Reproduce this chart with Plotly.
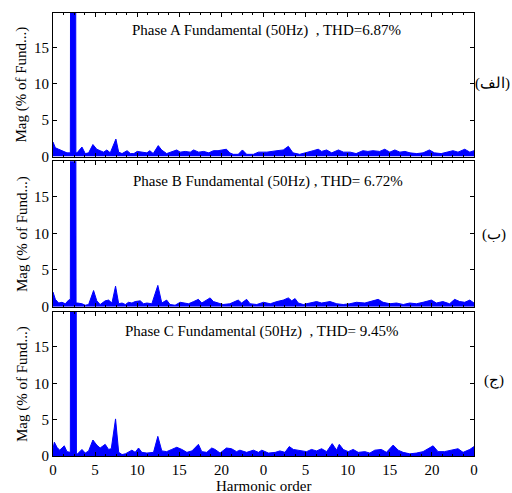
import plotly.graph_objects as go

# Harmonic spectra (magnitude in % of fundamental) for the three phases
order_a = [0, 0.28, 0.67, 1.26, 1.66, 2.06, 2.16, 2.62, 2.72, 2.85, 3.44, 3.83, 4.23, 4.74, 5.2, 5.6, 6.0, 6.4,
           6.8, 7.47, 7.8, 8.2, 8.8, 9.2, 9.6, 10.0, 10.4, 10.75, 11.15, 11.5, 11.9, 12.5, 12.9, 13.5, 14.1, 14.7,
           15.1, 15.7, 16.3, 16.7, 17.3, 17.9, 18.5, 19.05, 19.6, 20.2, 20.6, 21.0, 21.4, 22.0, 22.5, 23.0, 23.8,
           24.4, 25.4, 26.6, 27.35, 27.95, 28.5, 29.3, 30.1, 30.9, 31.5, 31.9, 32.5, 33.1, 33.9, 34.5, 35.3, 36.0,
           36.8, 37.4, 38.0, 38.8, 39.4, 40.0, 40.6, 41.2, 41.8, 42.4, 43.2, 43.95, 44.7, 45.3, 46.1, 46.9, 47.5,
           48.1, 48.9, 49.5, 50]
mag_a = [2.0, 1.2, 1.0, 0.7, 0.5, 0.5, 100, 100, 0.5, 0.5, 1.3, 0.4, 0.5, 1.65, 1.0, 0.8, 0.6, 0.9,
         0.5, 2.4, 0.6, 0.4, 0.8, 0.4, 0.4, 0.7, 0.6, 0.5, 0.5, 0.8, 0.4, 1.5, 0.9, 0.4, 0.6, 0.9,
         0.6, 0.7, 0.6, 0.9, 0.6, 0.7, 0.5, 0.8, 0.8, 0.9, 1.0, 0.5, 0.3, 0.3, 0.9, 0.3, 0.3,
         0.6, 0.6, 0.8, 0.9, 1.4, 0.5, 0.3, 0.6, 0.8, 1.0, 0.7, 0.9, 0.5, 0.9, 0.6, 0.6, 0.4,
         0.8, 0.7, 0.8, 0.7, 1.0, 0.6, 0.9, 0.6, 0.7, 0.5, 0.4, 0.5, 0.9, 0.5, 0.4, 0.6, 0.8,
         0.6, 1.0, 0.6, 0.8]

order_b = [0, 0.28, 0.67, 1.07, 1.46, 1.86, 2.06, 2.17, 2.63, 2.74, 2.92, 3.44, 3.83, 4.23, 4.82, 5.2, 5.6,
           6.2, 6.6, 7.0, 7.43, 7.8, 8.2, 8.6, 8.97, 9.37, 9.76, 10.36, 10.75, 11.15, 11.74, 12.45, 12.92,
           13.5, 13.9, 14.5, 15.1, 15.7, 16.1, 16.7, 17.27, 17.67, 18.06, 18.66, 19.05, 19.64, 20.2, 21.0,
           21.4, 22.0, 22.4, 23.0, 23.4, 24.2, 25.0, 25.8, 26.6, 27.35, 27.95, 28.35, 28.75, 29.13, 29.72,
           30.5, 31.3, 31.9, 32.9, 33.7, 34.47, 35.25, 36.05, 37.04, 37.83, 38.62, 39.2, 40.0, 40.8, 41.6,
           42.37, 43.16, 43.95, 44.94, 45.53, 46.3, 47.1, 47.7, 48.3, 48.9, 49.5, 50]
mag_b = [2.0, 1.0, 0.5, 0.6, 0.4, 0.9, 1.0, 100, 100, 0.5, 0.5, 0.4, 0.2, 0.3, 2.2, 0.8, 0.3,
         0.8, 0.9, 0.5, 2.8, 0.4, 0.5, 0.3, 0.6, 0.5, 0.7, 0.8, 0.4, 0.5, 0.4, 2.9, 0.5,
         0.9, 0.3, 0.2, 0.6, 0.5, 0.4, 0.7, 1.0, 0.5, 0.8, 1.2, 0.7, 0.5, 0.3, 0.4,
         0.6, 0.9, 0.5, 1.0, 0.4, 0.3, 0.6, 0.4, 0.7, 0.9, 1.2, 0.8, 1.1, 0.5, 0.3,
         0.5, 0.7, 0.5, 0.7, 0.4, 0.3, 0.4, 0.6, 0.5, 0.7, 1.0, 0.6, 0.4, 0.5, 0.3,
         0.5, 0.4, 0.6, 0.9, 0.5, 0.7, 0.4, 1.0, 0.7, 0.6, 0.9, 0.5]

order_c = [0, 0.16, 0.47, 0.79, 1.07, 1.34, 1.66, 2.06, 2.16, 2.68, 2.78, 2.92, 3.44, 3.83, 4.23, 4.74, 5.2,
           5.6, 6.2, 6.6, 6.92, 7.43, 7.8, 8.2, 8.6, 8.97, 9.37, 9.76, 10.16, 10.55, 11.15, 11.94, 12.45,
           12.92, 13.5, 14.1, 14.7, 15.3, 15.9, 16.5, 17.27, 17.67, 18.26, 18.85, 19.25, 19.84, 20.6, 21.2,
           21.8, 22.2, 23.0, 23.8, 24.4, 24.8, 25.6, 26.4, 26.95, 27.55, 28.06, 28.54, 29.33, 30.12, 30.7,
           31.3, 31.9, 32.5, 33.16, 33.68, 34.0, 34.47, 35.06, 35.65, 36.25, 37.04, 37.63, 38.22, 39.0,
           39.6, 40.4, 41.0, 41.58, 42.37, 43.16, 43.95, 45.14, 45.73, 46.5, 47.3, 48.1, 48.7, 49.5, 50]
mag_c = [1.0, 1.9, 1.2, 0.8, 1.1, 1.4, 0.6, 0.5, 100, 100, 0.3, 0.3, 0.9, 0.4, 0.7, 2.2, 1.5,
         1.1, 1.6, 0.9, 1.0, 5.1, 0.5, 0.2, 0.3, 0.6, 0.8, 0.5, 1.1, 0.5, 0.4, 0.5, 2.7,
         0.7, 0.6, 0.9, 1.2, 0.9, 0.5, 0.7, 1.6, 0.6, 0.5, 1.1, 0.9, 0.4, 1.1, 1.0,
         0.6, 0.8, 0.5, 0.8, 0.5, 0.8, 0.4, 0.5, 0.7, 0.5, 1.3, 0.9, 0.8, 0.6, 0.9,
         0.7, 1.0, 0.6, 1.7, 0.8, 1.6, 0.9, 0.6, 0.9, 0.5, 0.6, 0.4, 0.8, 0.9,
         0.5, 1.5, 0.8, 0.5, 0.3, 0.4, 0.6, 1.4, 0.6, 0.6, 0.8, 1.0, 0.5, 0.9, 1.3]

phase_titles = [
    "Phase A Fundamental (50Hz)\u00a0\u00a0, THD=6.87%",
    "Phase B Fundamental (50Hz) , THD= 6.72%",
    "Phase C Fundamental (50Hz)\u00a0\u00a0, THD= 9.45%",
]
panel_tags = ["(الف)", "(ب)", "(ج)"]
x_tick_vals = [0, 5, 10, 15, 20, 25, 30, 35, 40, 45, 50]
x_tick_text = ["0", "5", "10", "15", "20", "0", "5", "10", "15", "20", "0"]
y_tick_vals = [0, 5, 10, 15]

FONT = "Liberation Serif, Times New Roman, serif"
FS = 15
W, H = 512, 493
L, R, T, B = 53, 38, 12, 37
plot_h = H - T - B
plot_w = W - L - R

def py(pix):
    return (H - B - pix) / plot_h

def px(pix):
    return (pix - L) / plot_w

domains = [[py(156.5), py(12.7)], [py(306.7), py(161.3)], [0.0, py(312)]]

fig = go.Figure()
series = [(order_a, mag_a), (order_b, mag_b), (order_c, mag_c)]
for i, (xs, ys) in enumerate(series):
    sfx = "" if i == 0 else str(i + 1)
    fig.add_trace(go.Scatter(
        x=xs, y=ys, mode="lines", fill="tozeroy",
        line=dict(color="#0000ff", width=1), fillcolor="#0000ff",
        xaxis="x" + sfx, yaxis="y" + sfx, showlegend=False, hoverinfo="skip",
    ))

layout = dict(
    width=W, height=H,
    margin=dict(l=L, r=R, t=T, b=B, autoexpand=False),
    paper_bgcolor="white", plot_bgcolor="white",
    font=dict(family=FONT, size=FS, color="black"),
    showlegend=False,
)

for i in range(3):
    sfx = "" if i == 0 else str(i + 1)
    bottom = i == 2
    layout["xaxis" + sfx] = dict(
        domain=[0, 1], anchor="y" + sfx, range=[0, 50],
        tickmode="array", tickvals=x_tick_vals, ticktext=x_tick_text,
        showticklabels=bottom, automargin=False,
        ticks="inside", ticklen=4, tickwidth=1, tickcolor="black",
        minor=dict(dtick=1.25, tick0=0, ticks="inside", ticklen=2, tickcolor="black", showgrid=False),
        showline=True, linecolor="black", linewidth=1, mirror="allticks",
        showgrid=False, zeroline=False,
        tickfont=dict(family=FONT, size=FS, color="black"),
    )
    if i > 0:
        layout["xaxis" + sfx]["matches"] = "x"
    layout["yaxis" + sfx] = dict(
        domain=domains[i], anchor="x" + sfx, range=[0, 19.8],
        tickmode="array", tickvals=y_tick_vals, automargin=False,
        ticks="inside", ticklen=4, tickwidth=1, tickcolor="black",
        showline=True, linecolor="black", linewidth=1, mirror="allticks",
        showgrid=False, zeroline=False,
        tickfont=dict(family=FONT, size=FS, color="black"),
    )

annotations = []
title_pos = [(266.5, 30), (268, 181), (262, 331)]
tag_pos = [(493, 83), (494, 234), (494, 380)]
panel_mid = [84.6, 234, 384]
for i in range(3):
    annotations.append(dict(
        text=phase_titles[i], xref="paper", yref="paper",
        x=px(title_pos[i][0]), y=py(title_pos[i][1]),
        xanchor="center", yanchor="middle", showarrow=False,
        font=dict(family=FONT, size=FS, color="black"),
    ))
    annotations.append(dict(
        text=panel_tags[i], xref="paper", yref="paper",
        x=px(tag_pos[i][0]), y=py(tag_pos[i][1]),
        xanchor="center", yanchor="middle", showarrow=False,
        font=dict(family=FONT, size=FS, color="black"),
    ))
    annotations.append(dict(
        text="Mag (% of Fund...)", xref="paper", yref="paper",
        x=px(22), y=py(panel_mid[i]), textangle=-90,
        xanchor="center", yanchor="middle", showarrow=False,
        font=dict(family=FONT, size=FS, color="black"),
    ))
annotations.append(dict(
    text="Harmonic order", xref="paper", yref="paper",
    x=px(263.5), y=py(486), xanchor="center", yanchor="middle", showarrow=False,
    font=dict(family=FONT, size=FS, color="black"),
))
layout["annotations"] = annotations

fig.update_layout(**layout)
fig.write_html("out.html")
